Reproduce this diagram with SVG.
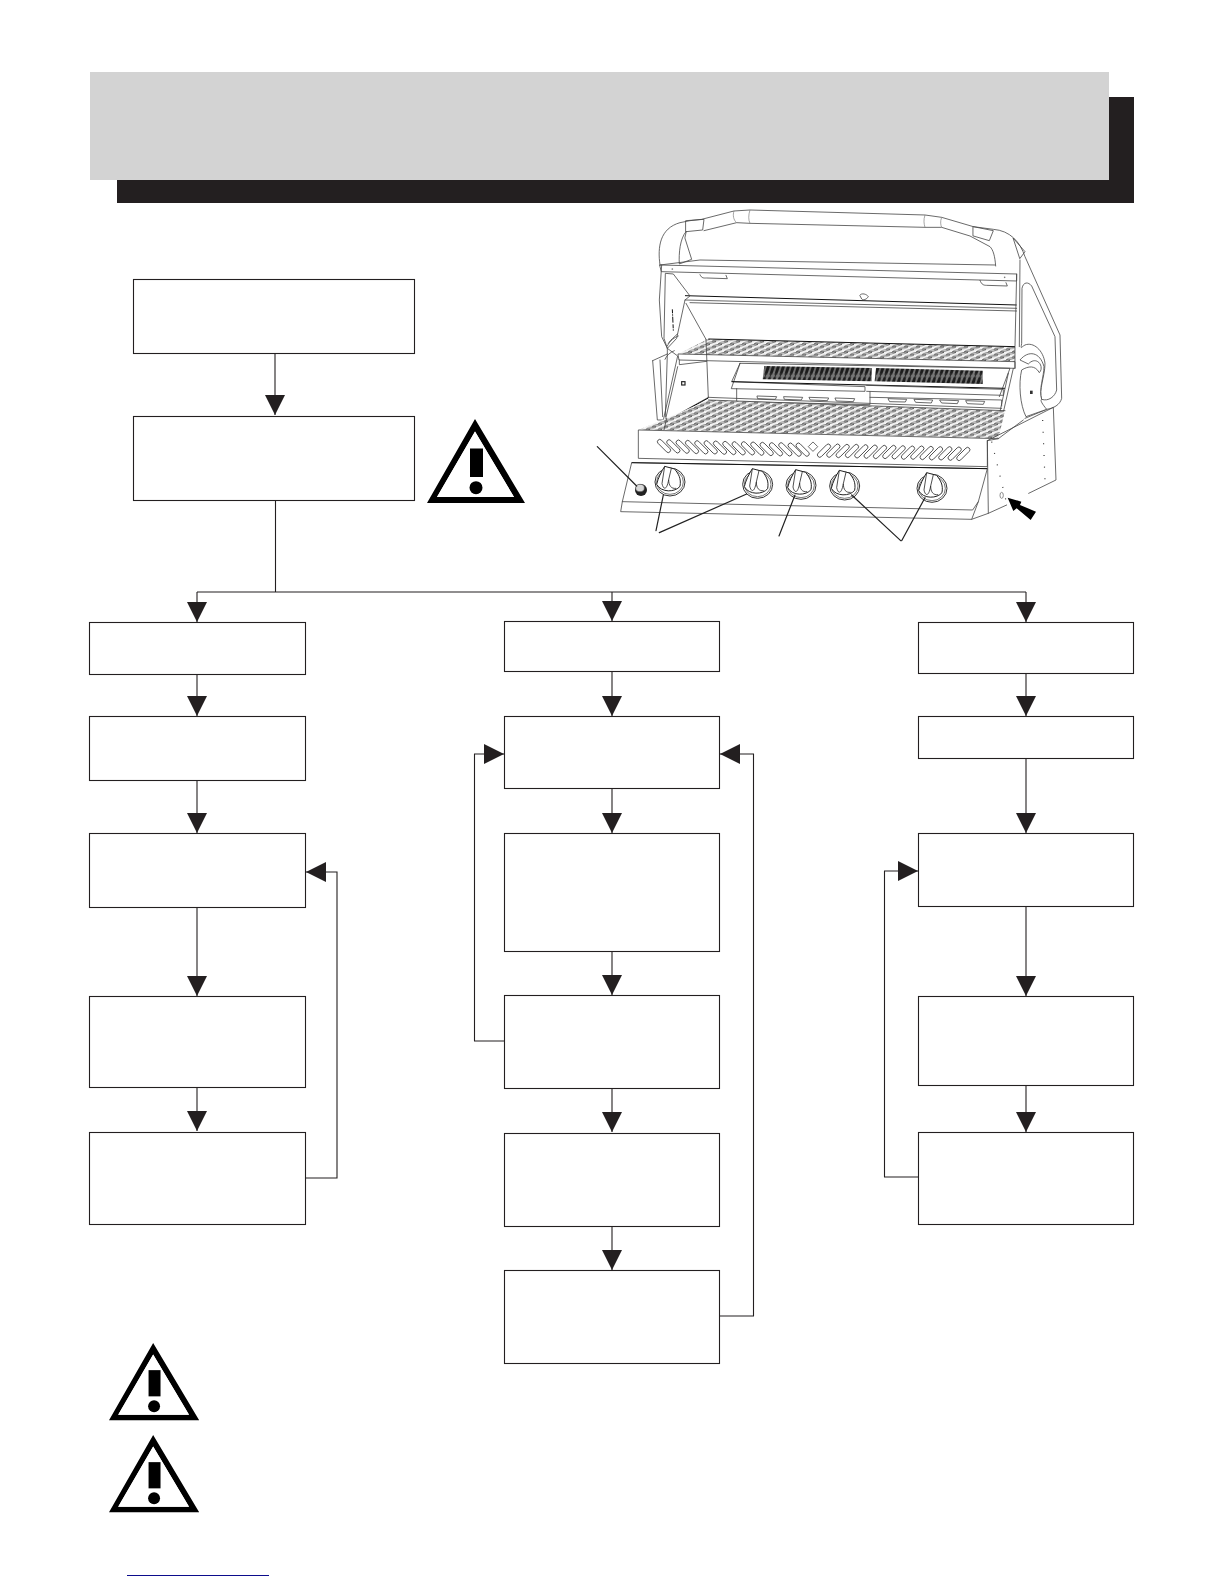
<svg xmlns="http://www.w3.org/2000/svg" xmlns:xlink="http://www.w3.org/1999/xlink" width="1224" height="1584" viewBox="0 0 1224 1584">
<style>
.box{fill:#fff;stroke:#231f20;stroke-width:1.1}
.conn{fill:none;stroke:#231f20;stroke-width:1.1;marker-end:url(#arr)}
.plain{fill:none;stroke:#231f20;stroke-width:1.1}
.l{fill:none;stroke:#444;stroke-width:2.4;stroke-linejoin:round;stroke-linecap:round}
.t{fill:none;stroke:#777;stroke-width:2}
.k{fill:none;stroke:#111;stroke-width:3}
.w{fill:#fff;stroke:#444;stroke-width:2.4;stroke-linejoin:round}
.lead{fill:none;stroke:#222;stroke-width:3.6;stroke-linecap:round}
.dash{fill:none;stroke:#333;stroke-width:3.5;stroke-dasharray:3 32}
</style>
<defs>
<marker id="arr" markerUnits="userSpaceOnUse" viewBox="0 0 20 20" markerWidth="20" markerHeight="20" refX="20" refY="10" orient="auto"><polygon points="0,0 20,10 0,20" fill="#231f20"/></marker>
<pattern id="grate" patternUnits="userSpaceOnUse" width="36" height="16">
<rect width="36" height="16" fill="#f2f2f2"/>
<path d="M1,7 C8,2 20,0 30,1 C24,4 10,8 1,7z M19,15 C26,10 38,8 48,9 C42,12 28,16 19,15z M-17,15 C-10,10 2,8 12,9 C6,12 -8,16 -17,15z" fill="#fff" stroke="#333" stroke-width="1.800"/>
</pattern>
<pattern id="burn" patternUnits="userSpaceOnUse" width="15" height="44" patternTransform="skewX(-18)">
<rect width="15" height="44" fill="#777"/>
<ellipse cx="7.500" cy="22" rx="5" ry="22" fill="#1c1c1c"/>
</pattern>
<g id="warn">
<path fill-rule="evenodd" d="M48,0 L98,84 L0,84 Z M48,12.500 L10,78 L87,78 Z" fill="#000"/>
<path d="M48,12.500 L10,78 L87,78 Z" fill="#fff"/>
<rect x="43" y="29.500" width="13" height="28.500" fill="#000"/>
<circle cx="49" cy="68.700" r="6.500" fill="#000"/>
</g>
<rect id="sl" x="-25" y="-7" width="50" height="14" rx="7" fill="#fff" stroke="#333" stroke-width="2.400"/>
<g id="knob">
<ellipse cx="2" cy="3" rx="45" ry="42" fill="#fff" stroke="#333" stroke-width="3"/>
<ellipse cx="2" cy="3" rx="40" ry="37" fill="none" stroke="#555" stroke-width="2.400"/>
<path d="M-38,10 C-34,-8 -24,-28 -14,-44 L16,-36 C28,-20 36,-8 32,16 C18,34 -24,36 -38,10 Z" fill="#fff" stroke="#222" stroke-width="3"/>
<path d="M-14,-44 L-22,8 M6,-38 L-2,-4 C-2,14 6,24 20,22 M-22,8 C-18,26 -8,30 -2,-4" fill="none" stroke="#222" stroke-width="2.400"/>
</g>
</defs>
<rect width="1224" height="1584" fill="#fff"/>
<g id="banner">
<rect x="117" y="97" width="1017" height="106" fill="#231f20"/>
<rect x="90" y="72" width="1019" height="108" fill="#d3d3d3"/>
</g>
<g id="connectors">
<path class="conn" d="M275,353 V415"/>
<path class="plain" d="M275.500,500 V592 M197,592 H1026"/>
<path class="conn" d="M197,592 V622"/>
<path class="conn" d="M612,592 V621"/>
<path class="conn" d="M1026,592 V622"/>
<path class="conn" d="M197,674 V716"/>
<path class="conn" d="M197,780 V833"/>
<path class="conn" d="M197,907 V996"/>
<path class="conn" d="M197,1087 V1131"/>
<path class="conn" d="M305,1178 H337 V872 H306"/>
<path class="conn" d="M612,671 V716"/>
<path class="conn" d="M612,788 V833"/>
<path class="conn" d="M612,951 V995"/>
<path class="conn" d="M612,1088 V1132"/>
<path class="conn" d="M612,1227 V1270"/>
<path class="conn" d="M504,1041 H474.500 V754 H504"/>
<path class="conn" d="M719,1316 H753.500 V754 H720"/>
<path class="conn" d="M1026,673 V716"/>
<path class="conn" d="M1026,758 V833"/>
<path class="conn" d="M1026,906 V996"/>
<path class="conn" d="M1026,1085 V1132"/>
<path class="conn" d="M918,1177 H884.500 V871 H918"/>
</g>
<g id="n1"><rect class="box" x="133.500" y="279.500" width="281" height="74"/></g>
<g id="n2"><rect class="box" x="133.500" y="416.500" width="281" height="84"/></g>
<g id="l1"><rect class="box" x="89.500" y="622.500" width="216" height="52"/></g>
<g id="l2"><rect class="box" x="89.500" y="716.500" width="216" height="64"/></g>
<g id="l3"><rect class="box" x="89.500" y="833.500" width="216" height="74"/></g>
<g id="l4"><rect class="box" x="89.500" y="996.500" width="216" height="91"/></g>
<g id="l5"><rect class="box" x="89.500" y="1132.500" width="216" height="92"/></g>
<g id="m1"><rect class="box" x="504.500" y="621.500" width="215" height="50"/></g>
<g id="m2"><rect class="box" x="504.500" y="716.500" width="215" height="72"/></g>
<g id="m3"><rect class="box" x="504.500" y="833.500" width="215" height="118"/></g>
<g id="m4"><rect class="box" x="504.500" y="995.500" width="215" height="93"/></g>
<g id="m5"><rect class="box" x="504.500" y="1133.500" width="215" height="93"/></g>
<g id="m6"><rect class="box" x="504.500" y="1270.500" width="215" height="93"/></g>
<g id="r1"><rect class="box" x="918.500" y="622.500" width="215" height="51"/></g>
<g id="r2"><rect class="box" x="918.500" y="716.500" width="215" height="42"/></g>
<g id="r3"><rect class="box" x="918.500" y="833.500" width="215" height="73"/></g>
<g id="r4"><rect class="box" x="918.500" y="996.500" width="215" height="89"/></g>
<g id="r5"><rect class="box" x="918.500" y="1132.500" width="215" height="92"/></g>
<g id="warn1"><use href="#warn" xlink:href="#warn" transform="translate(427,419)"/></g>
<g id="warn2"><use href="#warn" xlink:href="#warn" transform="translate(109,1343) scale(.92)"/></g>
<g id="warn3"><use href="#warn" xlink:href="#warn" transform="translate(109,1435) scale(.92)"/></g>
<rect id="link-rule" x="127" y="1575" width="142" height="1" fill="#0c0c8c"/>
<g id="grill" transform="translate(580,200) scale(.33333)">
<path class="l" d="M240,195 C232,140 240,85 300,68 L330,62 L365,58 L462,33 L510,30 L1035,45 L1085,52 L1180,80 L1240,88 C1290,92 1320,125 1335,170 L1440,405 L1445,595 C1440,615 1420,625 1400,628 L1335,655"/>
<path class="l" d="M372,92 L470,68 L510,70 L1035,82 L1085,82 L1170,108 L1230,140 C1240,150 1245,170 1247,198"/>
<path class="t" d="M510,30 C505,45 505,60 510,70 M1035,45 C1030,60 1032,72 1035,82 M462,33 C458,45 460,60 470,68 M1085,52 C1080,65 1082,75 1085,82"/>
<path class="l" d="M318,62 L372,58 L368,90 L318,95 Z M1180,80 L1240,92 L1228,122 L1180,108 Z"/>
<path class="l" d="M318,95 C300,115 296,160 298,192 L335,178 L315,115 Z M1300,115 L1335,155 L1320,175 Z"/>
<path class="l" d="M240,195 L360,180 L1245,195 M240,195 L1310,222 L1310,243 L245,215 Z"/>
<path class="l" d="M360,224 C365,236 372,234 380,234 L442,236 L438,226 M1200,241 C1205,255 1212,256 1220,256 L1282,258 L1278,248"/>
<circle cx="277" cy="207" r="2.500" fill="#777"/><circle cx="1274" cy="232" r="2.500" fill="#777"/>
<path class="k" d="M315,287 L1310,315"/>
<path class="l" d="M315,300 L1310,325 M330,308 L1310,333"/>
<path class="l" d="M840,285 C845,278 860,282 865,290 C860,298 850,302 846,298 Z"/>
<path class="l" d="M245,195 L238,300 L245,410 L262,445 L252,415 L256,220 L280,222 L330,288 L315,300 L290,415 L262,445"/>
<path class="l" d="M318,310 L378,418"/>
<path class="k" d="M277,328 L280,392" stroke-width="7" stroke-dasharray="12 3 4 3 18 5"/>
<path class="l" d="M262,438 C270,420 285,412 295,408 M265,430 C272,418 283,412 292,402 M255,478 C260,465 270,458 283,452"/>
<path class="l" d="M218,482 L232,660 L250,660 L293,468 L262,445 L262,462 L218,482 M240,480 L248,650 M262,462 L256,650"/>
<path d="M295,462 L385,417 L1305,440 L1305,485 Z" fill="url(#grate)"/>
<path class="k" d="M385,417 L1305,440"/>
<path class="l" d="M295,462 L1305,485 L1305,505 L298,480 Z M298,480 L298,494 L380,484"/>
<path class="l" d="M378,418 L385,592 M293,500 L255,665 L385,592"/>
<rect x="305" y="545" width="10" height="10" fill="#fff" stroke="#222" stroke-width="3.500"/>
<path class="k" d="M250,668 L385,594" stroke-width="4"/>
<path class="l" d="M480,490 L455,545 L855,560 L855,574 L455,566 Z M480,490 L1290,505 L1258,590"/>
<path class="k" d="M455,545 L1275,565" stroke-width="3"/>
<path class="l" d="M470,566 L470,605 L870,614 L870,575 M860,556 L1270,568 L1270,586 L860,574 M870,592 L1265,600 L1265,618"/>
<path d="M553,498 L875,504 L875,544 L548,538 Z" fill="url(#burn)"/>
<path d="M888,504 L1208,512 L1208,552 L884,544 Z" fill="url(#burn)"/>
<path class="l" d="M532,588 L590,590 L586,598 L534,596Z M612,590 L668,592 L664,600 L614,598Z M688,592 L746,594 L742,602 L692,600Z M766,594 L824,596 L820,605 L770,603Z M925,596 L980,598 L976,606 L930,605Z M1003,598 L1058,600 L1054,609 L1008,607Z M1080,600 L1136,602 L1132,611 L1086,609Z M1158,602 L1214,604 L1210,613 L1163,611Z"/>
<path class="l" d="M1300,505 L1262,672 L1250,680 L1285,520"/>
<path d="M175,690 L260,655 L385,600 L1275,632 L1255,715 Z" fill="url(#grate)"/>
<path class="l" d="M385,592 L1265,625 M260,655 L252,690 M385,600 L1275,632"/>
<path class="l" d="M1310,222 L1305,440 L1305,505 M1320,180 L1318,440"/>
<path class="w" d="M1326,265 C1330,245 1345,245 1355,258 L1425,410 L1430,570 C1425,590 1405,605 1385,598 C1375,570 1395,530 1395,490 C1390,450 1360,425 1335,435 C1322,442 1322,450 1325,430 Z"/>
<path class="w" d="M1345,492 C1370,465 1395,500 1378,518 C1365,495 1345,498 1325,510 C1315,550 1320,615 1338,650 L1400,628 C1385,610 1380,600 1385,598 C1375,570 1392,530 1392,500 C1380,455 1345,450 1320,480 Z"/>
<rect x="1350" y="572" width="8" height="10" fill="#333"/>
<path class="w" d="M175,690 L1255,716 L1222,722 L1222,800 L175,775 Z"/>
<path class="l" d="M1222,722 L1420,622 L1428,840 L1346,880 M1280,915 L1225,940 L1175,958 M1222,722 L1225,940"/>
<path class="l" d="M1255,716 L1330,660"/>
<path class="dash" d="M1235,725 L1280,910"/>
<path class="dash" d="M1388,660 L1395,840"/>
<ellipse cx="1265" cy="886" rx="5" ry="9" fill="#fff" stroke="#555" stroke-width="2"/>
<path class="w" d="M155,788 L1222,806 L1195,905 L1175,958 L122,935 L127,905 Z"/>
<path class="l" d="M127,905 L1178,930 L1195,905"/>
<path class="k" d="M155,788 L1222,806" stroke-width="2.600"/>
<g>
<use href="#sl" xlink:href="#sl" transform="translate(252,738) rotate(45)"/>
<use href="#sl" xlink:href="#sl" transform="translate(280,739) rotate(45)"/>
<use href="#sl" xlink:href="#sl" transform="translate(308,740) rotate(45)"/>
<use href="#sl" xlink:href="#sl" transform="translate(336,741) rotate(45)"/>
<use href="#sl" xlink:href="#sl" transform="translate(364,742) rotate(45)"/>
<use href="#sl" xlink:href="#sl" transform="translate(392,742) rotate(45)"/>
<use href="#sl" xlink:href="#sl" transform="translate(420,743) rotate(45)"/>
<use href="#sl" xlink:href="#sl" transform="translate(448,744) rotate(45)"/>
<use href="#sl" xlink:href="#sl" transform="translate(476,745) rotate(45)"/>
<use href="#sl" xlink:href="#sl" transform="translate(504,745) rotate(45)"/>
<use href="#sl" xlink:href="#sl" transform="translate(532,746) rotate(45)"/>
<use href="#sl" xlink:href="#sl" transform="translate(560,747) rotate(45)"/>
<use href="#sl" xlink:href="#sl" transform="translate(588,748) rotate(45)"/>
<use href="#sl" xlink:href="#sl" transform="translate(616,748) rotate(45)"/>
<use href="#sl" xlink:href="#sl" transform="translate(644,749) rotate(45)"/>
<use href="#sl" xlink:href="#sl" transform="translate(668,749) rotate(45)"/>
<rect x="689" y="730" width="20" height="20" transform="rotate(45 699 740)" fill="#fff" stroke="#444" stroke-width="2.200"/>
<use href="#sl" xlink:href="#sl" transform="translate(732,752) rotate(-45)"/>
<use href="#sl" xlink:href="#sl" transform="translate(760,752) rotate(-45)"/>
<use href="#sl" xlink:href="#sl" transform="translate(788,753) rotate(-45)"/>
<use href="#sl" xlink:href="#sl" transform="translate(816,753) rotate(-45)"/>
<use href="#sl" xlink:href="#sl" transform="translate(844,754) rotate(-45)"/>
<use href="#sl" xlink:href="#sl" transform="translate(872,755) rotate(-45)"/>
<use href="#sl" xlink:href="#sl" transform="translate(900,756) rotate(-45)"/>
<use href="#sl" xlink:href="#sl" transform="translate(928,756) rotate(-45)"/>
<use href="#sl" xlink:href="#sl" transform="translate(956,757) rotate(-45)"/>
<use href="#sl" xlink:href="#sl" transform="translate(984,758) rotate(-45)"/>
<use href="#sl" xlink:href="#sl" transform="translate(1012,758) rotate(-45)"/>
<use href="#sl" xlink:href="#sl" transform="translate(1040,759) rotate(-45)"/>
<use href="#sl" xlink:href="#sl" transform="translate(1068,760) rotate(-45)"/>
<use href="#sl" xlink:href="#sl" transform="translate(1096,760) rotate(-45)"/>
<use href="#sl" xlink:href="#sl" transform="translate(1124,761) rotate(-45)"/>
<use href="#sl" xlink:href="#sl" transform="translate(1150,762) rotate(-45)"/>
</g>
<use href="#knob" xlink:href="#knob" transform="translate(268,843)"/>
<use href="#knob" xlink:href="#knob" transform="translate(531,850)"/>
<use href="#knob" xlink:href="#knob" transform="translate(661,853)"/>
<use href="#knob" xlink:href="#knob" transform="translate(792,855)"/>
<use href="#knob" xlink:href="#knob" transform="translate(1054,862)"/>
<circle cx="183" cy="870" r="18" fill="#222"/>
<ellipse cx="180" cy="864" rx="13" ry="11" fill="#d8d8d8" stroke="#555" stroke-width="2"/>
<path class="lead" d="M52,740 L170,858 M250,885 L228,992 M500,882 L238,998 M645,885 L597,1008 M815,885 L962,1022 M1035,893 L965,1022"/>
<polygon points="1283,893 1324,905 1320,915 1368,935 1352,960 1310,925 1300,933" fill="#000"/>
</g>
</svg>
